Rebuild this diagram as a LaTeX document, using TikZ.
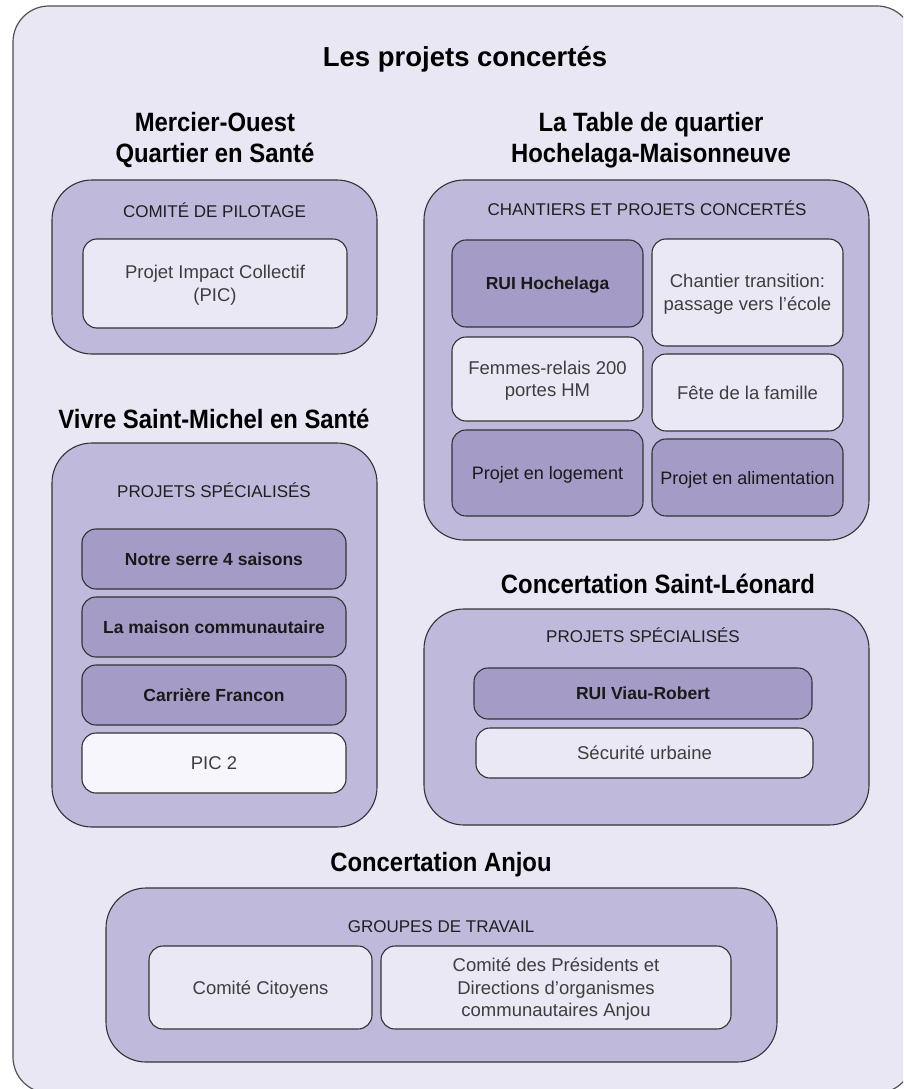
\documentclass[tikz,border=0pt]{standalone}
\usepackage{fontspec}
\setmainfont{Liberation Sans}
\newfontfamily\headfont[FakeStretch=0.9]{Liberation Sans}
\definecolor{bgc}{HTML}{E9E7F4}
\definecolor{midc}{HTML}{BFB9DC}
\definecolor{darkc}{HTML}{A59BC7}
\definecolor{lightc}{HTML}{EAE8F4}
\definecolor{whitec}{HTML}{F7F6FC}
\definecolor{edgec}{HTML}{333333}
\definecolor{bodyc}{HTML}{3E3E3E}
\tikzset{
  frame/.style={draw=edgec!85, line width=1.2pt, fill=bgc, rounded corners=36pt, inner sep=0pt},
  midbox/.style={draw=edgec, line width=1.1pt, fill=midc, rounded corners=40pt, inner sep=0pt},
  innerbox/.style={draw=edgec, line width=1.1pt, rounded corners=14pt, inner sep=2pt, align=center, text depth=0pt},
  darkbox/.style={innerbox, fill=darkc, text=black!90, font=\bfseries\fontsize{17.5}{22}\selectfont},
  lightbox/.style={innerbox, fill=lightc, text=bodyc, font=\fontsize{18.5}{22.5}\selectfont},
  whitebox/.style={lightbox, fill=whitec},
  headtxt/.style={anchor=base, inner sep=0pt, align=center, text=black, font=\headfont\bfseries\fontsize{26.5}{31}\selectfont},
  titletxt/.style={anchor=base, inner sep=0pt, text=black, font=\bfseries\fontsize{27.5}{33}\selectfont},
  labeltxt/.style={anchor=base, inner sep=0pt, text=black!88, font=\fontsize{17}{20}\selectfont}
}
\begin{document}
\begin{tikzpicture}[x=1pt,y=-1pt]
\useasboundingbox (0,0) rectangle (903,1089);
\clip (0,0) rectangle (903,1089);
% outer frame
\node[frame, minimum width=900, minimum height=1087] (outer) at (463,549.5) {};
\node[titletxt] (title) at (465,67) {Les projets concertés};

% Mercier-Ouest
\node[headtxt] (hmercier) at (215,162) {Mercier-Ouest\\Quartier en Santé};
\node[midbox, minimum width=325, minimum height=174] (mercier) at (214.5,267) {};
\node[labeltxt] (lmercier) at (214.5,217) {COMITÉ DE PILOTAGE};
\node[lightbox, minimum width=264, minimum height=89] (pic) at (215,283.5) {Projet Impact Collectif\\(PIC)};

% Hochelaga-Maisonneuve
\node[headtxt] (hhoch) at (651,162) {La Table de quartier\\Hochelaga-Maisonneuve};
\node[midbox, minimum width=445, minimum height=360] (hoch) at (646.5,360) {};
\node[labeltxt] (lhoch) at (647,215) {CHANTIERS ET PROJETS CONCERTÉS};
\node[darkbox, minimum width=191, minimum height=87] (rui) at (547.5,283.5) {RUI Hochelaga};
\node[lightbox, minimum width=191, minimum height=107] (chantier) at (747.5,292.5) {Chantier transition:\\passage vers l’école};
\node[lightbox, minimum width=191, minimum height=84] (femmes) at (547.5,379) {Femmes-relais 200\\portes HM};
\node[lightbox, minimum width=191, minimum height=77] (fete) at (747.5,392.5) {Fête de la famille};
\node[darkbox, font=\fontsize{18}{22}\selectfont, minimum width=191, minimum height=86] (logement) at (547.5,473) {Projet en logement};
\node[darkbox, font=\fontsize{18}{22}\selectfont, minimum width=191, minimum height=77] (alim) at (747.5,477.5) {Projet en alimentation};

% Vivre Saint-Michel
\node[headtxt] (hvivre) at (214,428) {Vivre Saint-Michel en Santé};
\node[midbox, minimum width=325, minimum height=384] (vivre) at (214.5,635) {};
\node[labeltxt] (lvivre) at (214,497) {PROJETS SPÉCIALISÉS};
\node[darkbox, minimum width=264, minimum height=60] (serre) at (214,559) {Notre serre 4 saisons};
\node[darkbox, minimum width=264, minimum height=60] (maison) at (214,627) {La maison communautaire};
\node[darkbox, minimum width=264, minimum height=60] (carriere) at (214,695) {Carrière Francon};
\node[whitebox, minimum width=264, minimum height=60] (pic2) at (214,763) {PIC 2};

% Saint-Leonard
\node[headtxt] (hleon) at (658,593) {Concertation Saint-Léonard};
\node[midbox, minimum width=445, minimum height=216] (leon) at (646.5,717) {};
\node[labeltxt] (lleon) at (643,642) {PROJETS SPÉCIALISÉS};
\node[darkbox, minimum width=338, minimum height=51] (viau) at (643,693.5) {RUI Viau-Robert};
\node[lightbox, minimum width=337, minimum height=50] (secu) at (644.5,753) {Sécurité urbaine};

% Anjou
\node[headtxt] (hanjou) at (441,871) {Concertation Anjou};
\node[midbox, minimum width=671, minimum height=174] (anjou) at (441.5,975) {};
\node[labeltxt] (lanjou) at (441,932) {GROUPES DE TRAVAIL};
\node[lightbox, minimum width=223, minimum height=83] (citoyens) at (260.5,987.5) {Comité Citoyens};
\node[lightbox, minimum width=350, minimum height=83] (presidents) at (556,987.5) {Comité des Présidents et\\Directions d’organismes\\communautaires Anjou};
\end{tikzpicture}
\end{document}
